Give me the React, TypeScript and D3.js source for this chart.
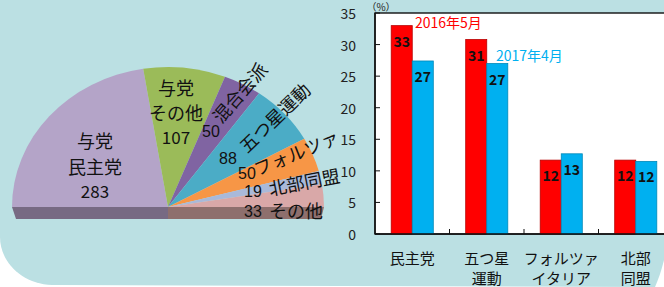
import React from 'react';
import * as d3 from 'd3';

// constants
const width = 664;
const height = 287;
const font = '"Noto Sans CJK JP", "Noto Sans", sans-serif';
const digitFont = '"Liberation Sans", Arial, sans-serif';

// pie data (seats)
const parties = ['与党民主党', '与党その他', '混合会派', '五つ星運動', 'フォルツァ', '北部同盟', 'その他'];
const seats = [283, 107, 50, 88, 50, 19, 33];
const pieColours = ['#b4a4c8', '#9bbb59', '#8064a2', '#4bacc6', '#f79646', '#a9b9d9', '#d9a8a8'];

// bar data (%)
const categories = ['民主党', '五つ星運動', 'フォルツァイタリア', '北部同盟'];
const catLines = [['民主党'], ['五つ星', '運動'], ['フォルツァ', 'イタリア'], ['北部', '同盟']];
const series = ['2016年5月', '2017年4月'];
const may2016 = [33, 30.8, 11.7, 11.7];
const apr2017 = [27.4, 27.0, 12.7, 11.5];
const may2016Labels = ['33', '31', '12', '12'];
const apr2017Labels = ['27', '27', '13', '12'];
const yTicks = [0, 5, 10, 15, 20, 25, 30, 35];
const barColours = ['#ff0000', '#00b0f0'];
const barStrokes = ['#b80000', '#0088b8'];

// pie layout
const cx = 168, cy = 207, rx = 156, ry = 140, depth = 12;

// bar layout
const plot = { left: 375, right: 673, top: 13, bottom: 234 };

const App = () => {
  const pie = d3.pie<number>().sort(null).startAngle(-Math.PI / 2).endAngle(Math.PI / 2)(seats);
  const arc = d3.arc<d3.PieArcDatum<number>>().innerRadius(0).outerRadius(rx);

  const xScale = d3.scaleBand().domain(categories).range([plot.left, plot.right]);
  const sScale = d3.scaleBand().domain(series).range([0, xScale.bandwidth()]).paddingOuter(0.77);
  const yScale = d3.scaleLinear().domain([0, 35]).range([plot.bottom, plot.top]);
  const values = [may2016, apr2017];
  const labels = [may2016Labels, apr2017Labels];

  // number + rotated name labels for the small slices
  const sideLabels = [
    { num: '50', nx: 211, ny: 131, name: '混合会派', tx: 239, ty: 92, rot: -49 },
    { num: '88', nx: 228, ny: 158, name: '五つ星運動', tx: 274, ty: 117, rot: -44 },
    { num: '50', nx: 247, ny: 173, name: 'フォルツァ', tx: 296, ty: 152, rot: -22 },
    { num: '19', nx: 253, ny: 191, name: '北部同盟', tx: 304, ty: 181, rot: -11 },
    { num: '33', nx: 253, ny: 211, name: 'その他', tx: 296, ty: 210, rot: 0 },
  ];

  return (
    <svg width={width} height={height} style={{ position: 'absolute', left: 0, top: 0 }} fontFamily={font}>
      <rect width={width} height={height} fill="#fff" />
      {/* teal background panel */}
      <path d="M0,0 H664 V260 C661,272 658,280 655,287 L52,285 C22,284 0,262 0,237 Z" fill="#bbe0e3" />

      {/* 3d side of the half pie */}
      <polygon points={`${cx - rx},${cy} ${cx},${cy} ${cx},${cy + depth} ${cx - rx + 4},${cy + depth}`} fill="#776a83" />
      <polygon points={`${cx},${cy} ${cx + rx},${cy} ${cx + rx - 3},${cy + depth} ${cx},${cy + depth}`} fill="#8e6f6d" />

      {/* pie slices */}
      <g transform={`translate(${cx},${cy}) scale(1,${ry / rx})`}>
        {pie.map((d, i) => (
          <path key={parties[i]} d={arc(d) || ''} fill={pieColours[i]} />
        ))}
      </g>

      {/* big slice labels */}
      <g fontSize={18} fill="#111" textAnchor="middle" dominantBaseline="central">
        <text x={95} y={140}>与党</text>
        <text x={95} y={166}>民主党</text>
        <text x={95} y={190} fontSize={17}>{seats[0]}</text>
        <text x={176} y={87}>与党</text>
        <text x={176} y={112}>その他</text>
        <text x={176} y={136} fontSize={17}>{seats[1]}</text>
      </g>
      <g fontSize={18} fill="#111" textAnchor="middle" dominantBaseline="central">
        {sideLabels.map((l, i) => (
          <g key={i}>
            <text x={l.nx} y={l.ny} fontSize={16} fontFamily={digitFont}>{l.num}</text>
            <text transform={`translate(${l.tx},${l.ty}) rotate(${l.rot})`}>{l.name}</text>
          </g>
        ))}
      </g>

      {/* bar chart plot area */}
      <rect x={plot.left} y={plot.top} width={plot.right - plot.left + 10} height={plot.bottom - plot.top} fill="#fff" stroke="#111" strokeWidth={1.4} />

      {values.map((vals, s) =>
        vals.map((v, i) => {
          const x = (xScale(categories[i]) || 0) + (sScale(series[s]) || 0);
          const y = yScale(v);
          return (
            <g key={`${s}-${i}`}>
              <rect x={x} y={y} width={sScale.bandwidth()} height={plot.bottom - y} fill={barColours[s]} stroke={barStrokes[s]} strokeWidth={0.8} />
              <text x={x + sScale.bandwidth() / 2} y={y + 21} textAnchor="middle" fontSize={14} fontWeight="bold" fill="#111">{labels[s][i]}</text>
            </g>
          );
        })
      )}

      {/* axes */}
      <line x1={plot.left} x2={plot.left} y1={plot.top} y2={plot.bottom} stroke="#111" strokeWidth={1.4} />
      <line x1={plot.left} x2={width} y1={plot.bottom} y2={plot.bottom} stroke="#111" strokeWidth={1.6} />
      {yTicks.map(t => (
        <g key={t}>
          <line x1={plot.left} x2={plot.left + 5} y1={yScale(t)} y2={yScale(t)} stroke="#111" />
          <text x={356} y={yScale(t)} textAnchor="end" dominantBaseline="central" fontSize={14} fill="#222">{t}</text>
        </g>
      ))}
      {categories.slice(1).map(c => (
        <line key={c} x1={xScale(c)} x2={xScale(c)} y1={plot.bottom} y2={plot.bottom - 5} stroke="#111" />
      ))}
      {catLines.map((lines, i) => (
        <text key={i} textAnchor="middle" fontSize={15} fill="#111">
          {lines.map((ln, j) => (
            <tspan key={j} x={(xScale(categories[i]) || 0) + xScale.bandwidth() / 2} y={257 + j * 20} dominantBaseline="central">{ln}</tspan>
          ))}
        </text>
      ))}
      <text x={381} y={6} textAnchor="middle" dominantBaseline="central" fontSize={10} fill="#222">（%）</text>

      {/* series labels */}
      <text x={415} y={28} fontSize={14} fill={barColours[0]}>{series[0]}</text>
      <text x={496} y={61} fontSize={14} fill={barColours[1]}>{series[1]}</text>
    </svg>
  );
};

export default App;
